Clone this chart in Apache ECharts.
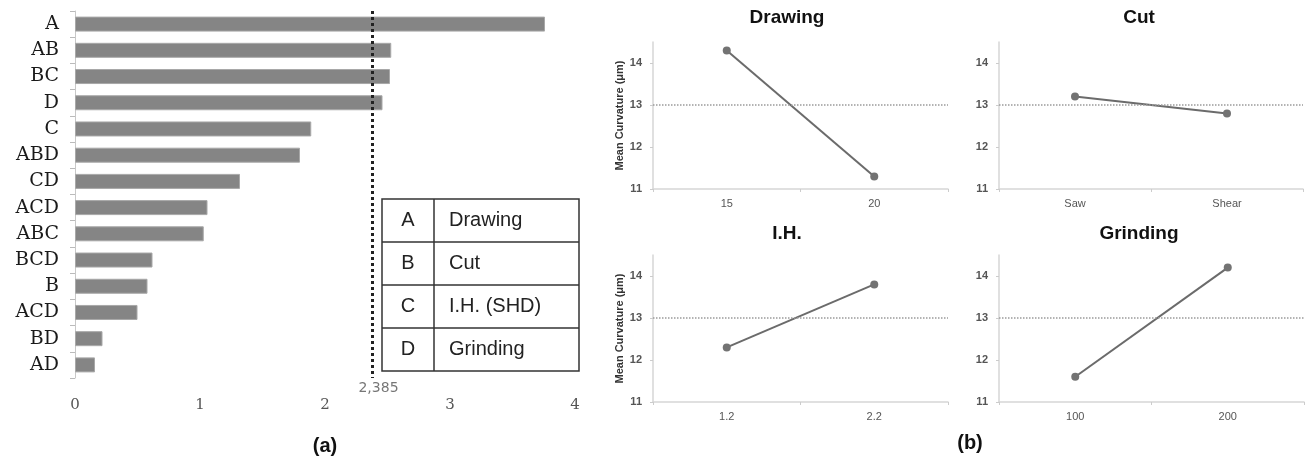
<!DOCTYPE html>
<html><head><meta charset="utf-8">
<script src="https://cdn.jsdelivr.net/npm/echarts@6/dist/echarts.min.js"></script>
<style>html,body{margin:0;padding:0;background:#fff}#c{width:1308px;height:466px}</style>
</head><body><div id="c"></div>
<script>
// ---- Data ----
const effectLabels = ['A','AB','BC','D','C','ABD','CD','ACD','ABC','BCD','B','ACD','BD','AD'];
const effectValues = [3.76, 2.53, 2.52, 2.46, 1.89, 1.80, 1.32, 1.06, 1.03, 0.62, 0.58, 0.50, 0.22, 0.16];
const criticalValue = 2.385;
const criticalLabel = '2,385';
const effectTicks = [0, 1, 2, 3, 4];

const tableKeys = ['A','B','C','D'];
const tableNames = ['Drawing','Cut','I.H. (SHD)','Grinding'];

const factorTitles = ['Drawing','Cut','I.H.','Grinding'];
const drawingLevels = ['15','20'];
const drawingMeans = [14.3, 11.3];
const cutLevels = ['Saw','Shear'];
const cutMeans = [13.2, 12.8];
const ihLevels = ['1.2','2.2'];
const ihMeans = [12.3, 13.8];
const grindLevels = ['100','200'];
const grindMeans = [11.6, 14.2];
const grandMean = 13;
const yName = 'Mean Curvature (μm)';

// ---- Layout ----
const chart = echarts.init(document.getElementById('c'));
const panels = [
  {levels: drawingLevels, means: drawingMeans, grid: {left: 653, right: 360, top: 42, bottom: 277}, name: true, tx: 787, ty: 18},
  {levels: cutLevels, means: cutMeans, grid: {left: 999, right: 5, top: 42, bottom: 277}, name: false, tx: 1139, ty: 18},
  {levels: ihLevels, means: ihMeans, grid: {left: 653, right: 360, top: 255, bottom: 64}, name: true, tx: 787, ty: 234},
  {levels: grindLevels, means: grindMeans, grid: {left: 999, right: 4, top: 255, bottom: 64}, name: false, tx: 1139, ty: 234}
];

const grids = [{left: 75, right: 733, top: 11, bottom: 88}];
const xAxes = [{
  type: 'value', gridIndex: 0, min: effectTicks[0], max: effectTicks[effectTicks.length-1], interval: 1,
  axisLine: {show: false}, axisTick: {show: false}, splitLine: {show: false},
  axisLabel: {fontFamily: 'DejaVu Serif', fontSize: 15, color: '#555', margin: 20}
}];
const yAxes = [{
  type: 'category', gridIndex: 0, data: effectLabels, inverse: true,
  axisLine: {show: true, lineStyle: {color: '#c8c8c8'}},
  axisTick: {show: true, length: 5, lineStyle: {color: '#bbb'}},
  axisLabel: {fontFamily: 'DejaVu Serif', fontSize: 19, color: '#1a1a1a', margin: 16}
}];
const series = [{
  type: 'bar', xAxisIndex: 0, yAxisIndex: 0, data: effectValues, barWidth: 15,
  itemStyle: {color: '#858585', borderColor: '#a8a8a8', borderWidth: 1},
  markLine: {
    silent: true, symbol: 'none', animation: false,
    lineStyle: {type: 'dotted', color: '#222', width: 3},
    label: {show: true, position: 'end', formatter: criticalLabel, color: '#777', fontSize: 14, fontFamily: 'DejaVu Sans', distance: 3, offset: [6, 0]},
    data: [{xAxis: criticalValue}]
  }
}];

const graphics = [];
panels.forEach((p, i) => {
  const gi = i + 1;
  grids.push(p.grid);
  xAxes.push({
    type: 'category', gridIndex: gi, data: p.levels, boundaryGap: true,
    axisLine: {lineStyle: {color: '#d6d6d6', width: 1.5}},
    axisTick: {show: true, length: 3, lineStyle: {color: '#ccc'}},
    axisLabel: {fontFamily: 'Liberation Sans', fontSize: 11, color: '#555', margin: 9}
  });
  yAxes.push({
    type: 'value', gridIndex: gi, min: 11, max: 14.5, interval: 1,
    axisLine: {show: true, lineStyle: {color: '#d6d6d6', width: 1.5}},
    axisTick: {show: true, length: 3, lineStyle: {color: '#ccc'}},
    splitLine: {show: false},
    axisLabel: {fontFamily: 'Liberation Sans', fontSize: 11, fontWeight: 'bold', color: '#555', margin: 11, showMaxLabel: false},
    name: p.name ? yName : '', nameLocation: 'middle', nameGap: 25,
    nameTextStyle: {fontFamily: 'Liberation Sans', fontSize: 11, fontWeight: 'bold', color: '#333'}
  });
  series.push({
    type: 'line', xAxisIndex: gi, yAxisIndex: gi, data: p.means,
    symbol: 'circle', symbolSize: 8,
    lineStyle: {color: '#6b6b6b', width: 2},
    itemStyle: {color: '#737373'},
    markLine: {
      silent: true, symbol: 'none', animation: false, label: {show: false},
      lineStyle: {type: 'dotted', color: '#9a9a9a', width: 1.5},
      data: [{yAxis: grandMean}]
    }
  });
  graphics.push({type: 'text', x: p.tx, y: p.ty, style: {text: factorTitles[i], font: 'bold 19px "Liberation Sans"', fill: '#111', align: 'center', verticalAlign: 'middle'}});
});

// table
const tX0 = 382, tX1 = 434, tX2 = 579, tY0 = 199, rowH = 43;
graphics.push({type: 'rect', shape: {x: tX0, y: tY0, width: tX2 - tX0, height: rowH * tableKeys.length}, style: {fill: '#fff', stroke: '#333', lineWidth: 1.5}, z: 100});
graphics.push({type: 'line', shape: {x1: tX1, y1: tY0, x2: tX1, y2: tY0 + rowH * tableKeys.length}, style: {stroke: '#333', lineWidth: 1.5}, z: 101});
tableKeys.forEach((k, r) => {
  if (r > 0) graphics.push({type: 'line', shape: {x1: tX0, y1: tY0 + rowH * r, x2: tX2, y2: tY0 + rowH * r}, style: {stroke: '#333', lineWidth: 1.5}, z: 101});
  const cy = tY0 + rowH * r + rowH / 2;
  graphics.push({type: 'text', x: (tX0 + tX1) / 2, y: cy, style: {text: k, font: '20px "Liberation Sans"', fill: '#222', align: 'center', verticalAlign: 'middle'}, z: 102});
  graphics.push({type: 'text', x: 449, y: cy, style: {text: tableNames[r], font: '20px "Liberation Sans"', fill: '#222', align: 'left', verticalAlign: 'middle'}, z: 102});
});

graphics.push({type: 'text', x: 325, y: 446, style: {text: '(a)', font: 'bold 20px "Liberation Sans"', fill: '#111', align: 'center', verticalAlign: 'middle'}});
graphics.push({type: 'text', x: 970, y: 443, style: {text: '(b)', font: 'bold 20px "Liberation Sans"', fill: '#111', align: 'center', verticalAlign: 'middle'}});

chart.setOption({
  animation: false,
  backgroundColor: '#fff',
  grid: grids, xAxis: xAxes, yAxis: yAxes, series: series, graphic: graphics
});
</script>
</body></html>
